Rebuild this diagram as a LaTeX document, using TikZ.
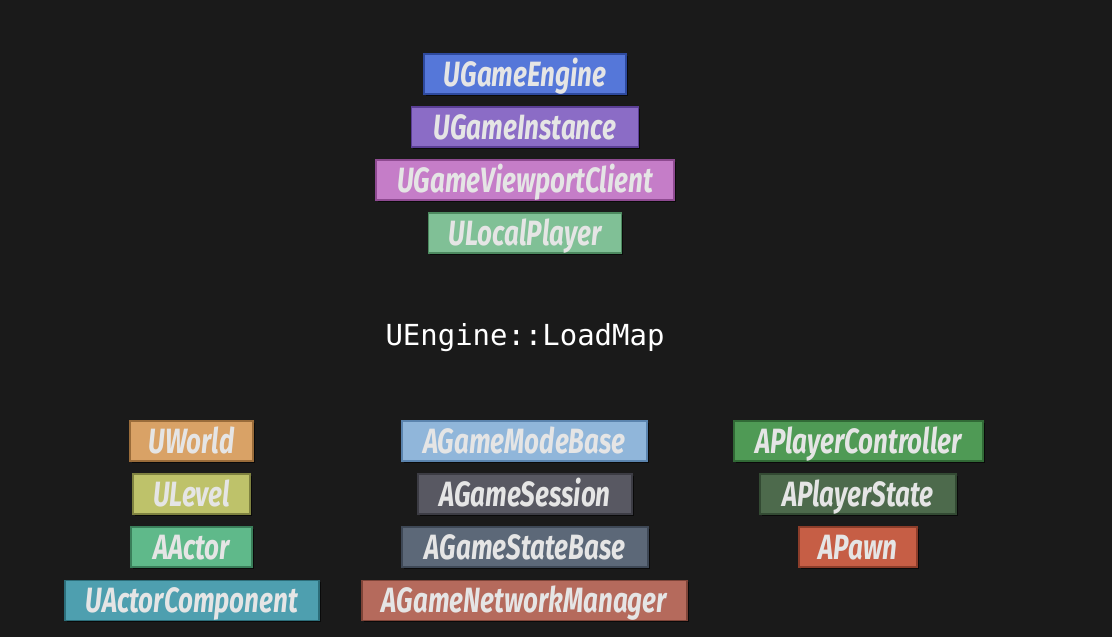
\documentclass[tikz,border=0pt]{standalone}
\usepackage{fontspec}
\usepackage{tikz}
\usetikzlibrary{shadows}
\newfontfamily\classfont[FakeStretch=0.74]{Fira Sans}
\newfontfamily\codefont{DejaVu Sans Mono}
\definecolor{bgcol}{HTML}{1A1A1A}
\definecolor{engfill}{HTML}{5577D9}\definecolor{engline}{HTML}{2E4A9E}
\definecolor{insfill}{HTML}{8B6CC6}\definecolor{insline}{HTML}{5B3F96}
\definecolor{vpfill}{HTML}{C57DC8}\definecolor{vpline}{HTML}{8E4A91}
\definecolor{lpfill}{HTML}{80C096}\definecolor{lpline}{HTML}{4D8A60}
\definecolor{wldfill}{HTML}{D9A266}\definecolor{wldline}{HTML}{9A6C3A}
\definecolor{lvlfill}{HTML}{BEC26A}\definecolor{lvlline}{HTML}{7F8240}
\definecolor{actfill}{HTML}{5FB98A}\definecolor{actline}{HTML}{3A7E5A}
\definecolor{acfill}{HTML}{4E9FAF}\definecolor{acline}{HTML}{2C6E7A}
\definecolor{gmfill}{HTML}{90B6DA}\definecolor{gmline}{HTML}{5B84AE}
\definecolor{gsfill}{HTML}{585862}\definecolor{gsline}{HTML}{3C3C44}
\definecolor{gstfill}{HTML}{5C6878}\definecolor{gstline}{HTML}{3E4856}
\definecolor{nmfill}{HTML}{B56A5C}\definecolor{nmline}{HTML}{7E4438}
\definecolor{pcfill}{HTML}{4F9A55}\definecolor{pcline}{HTML}{316A36}
\definecolor{psfill}{HTML}{4D6A4C}\definecolor{psline}{HTML}{334A33}
\definecolor{pwfill}{HTML}{C65E45}\definecolor{pwline}{HTML}{8C3D2A}
\tikzset{
  cls/.style n args={3}{draw=#2, fill=#1, line width=1.2pt, minimum width=#3,
    text height=0.8cm, text depth=0.2cm, inner sep=0pt, text=white!90!black,
    font=\classfont\bfseries\itshape\fontsize{25}{28}\selectfont,
    drop shadow={shadow xshift=1.2pt, shadow yshift=-1.2pt, fill=black, opacity=0.6}},
}

\begin{document}
\begin{tikzpicture}
        \fill[bgcol] (0cm, 0cm) rectangle (27.8cm, -15.925cm);
        \useasboundingbox (0cm, 0cm) rectangle (27.8cm, -15.925cm);
        % engine side
        \node (engine) [cls={engfill}{engline}{5.05cm}] at (13.125cm, -1.85cm) {UGameEngine};
        \node (instance) [cls={insfill}{insline}{5.675cm}] at (13.125cm, -3.175cm) {UGameInstance};
        \node (viewport) [cls={vpfill}{vpline}{7.45cm}] at (13.125cm, -4.5cm) {UGameViewportClient};
        \node (localplayer) [cls={lpfill}{lpline}{4.825cm}] at (13.125cm, -5.825cm) {ULocalPlayer};
        \node (loadmap) [text=white, font=\codefont\fontsize{20.6}{24}\selectfont] at (13.125cm, -8.45cm) {UEngine::LoadMap};
        % world side
        \node (world) [cls={wldfill}{wldline}{3.075cm}] at (4.79cm, -11.025cm) {UWorld};
        \node (level) [cls={lvlfill}{lvlline}{2.925cm}] at (4.79cm, -12.35cm) {ULevel};
        \node (actor) [cls={actfill}{actline}{3.025cm}] at (4.79cm, -13.675cm) {AActor};
        \node (actorcomp) [cls={acfill}{acline}{6.35cm}] at (4.8cm, -15.01cm) {UActorComponent};
        \node (gamemode) [cls={gmfill}{gmline}{6.125cm}] at (13.11cm, -11.025cm) {AGameModeBase};
        \node (session) [cls={gsfill}{gsline}{5.35cm}] at (13.125cm, -12.35cm) {AGameSession};
        \node (gamestate) [cls={gstfill}{gstline}{6.15cm}] at (13.125cm, -13.675cm) {AGameStateBase};
        \node (netmgr) [cls={nmfill}{nmline}{8.125cm}] at (13.11cm, -15.01cm) {AGameNetworkManager};
        \node (pc) [cls={pcfill}{pcline}{6.225cm}] at (21.46cm, -11.025cm) {APlayerController};
        \node (ps) [cls={psfill}{psline}{4.9cm}] at (21.45cm, -12.35cm) {APlayerState};
        \node (pawn) [cls={pwfill}{pwline}{2.95cm}] at (21.45cm, -13.675cm) {APawn};
\end{tikzpicture}
\end{document}
